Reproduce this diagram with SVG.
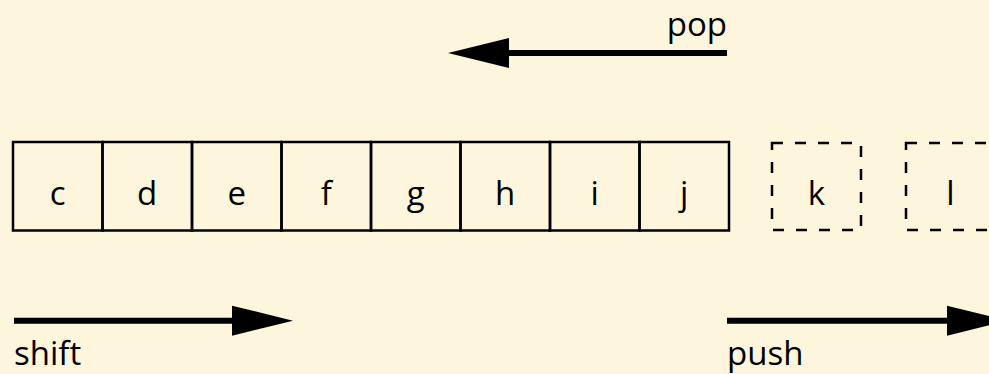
<svg xmlns="http://www.w3.org/2000/svg" width="989" height="374" viewBox="0 0 989 374">
  <style>
    .cell { fill: none; stroke: #000; stroke-width: 2.5; }
    .ghost { fill: none; stroke: #000; stroke-width: 2.5; stroke-dasharray: 11 12; }
    .lbl { font-family: "Open Sans", "Noto Sans", sans-serif; font-size: 33px; fill: #000; }
    .mid { text-anchor: middle; }
    .arrow { stroke: #000; stroke-width: 6; fill: none; }
    .head { fill: #000; }
  </style>
  <rect width="989" height="374" fill="#fdf6dc"/>

  <g id="cell-c"><rect class="cell" x="13" y="142" width="89.5" height="88.5"/><text class="lbl mid" x="57.7" y="205">c</text></g>
  <g id="cell-d"><rect class="cell" x="102.5" y="142" width="89.5" height="88.5"/><text class="lbl mid" x="147.2" y="205">d</text></g>
  <g id="cell-e"><rect class="cell" x="192" y="142" width="89.5" height="88.5"/><text class="lbl mid" x="236.7" y="205">e</text></g>
  <g id="cell-f"><rect class="cell" x="281.5" y="142" width="89.5" height="88.5"/><text class="lbl mid" x="326.2" y="205">f</text></g>
  <g id="cell-g"><rect class="cell" x="371" y="142" width="89.5" height="88.5"/><text class="lbl mid" x="415.7" y="205">g</text></g>
  <g id="cell-h"><rect class="cell" x="460.5" y="142" width="89.5" height="88.5"/><text class="lbl mid" x="505.2" y="205">h</text></g>
  <g id="cell-i"><rect class="cell" x="550" y="142" width="89.5" height="88.5"/><text class="lbl mid" x="594.7" y="205">i</text></g>
  <g id="cell-j"><rect class="cell" x="639.5" y="142" width="89.5" height="88.5"/><text class="lbl mid" x="684.2" y="205">j</text></g>

  <g id="cell-k"><rect class="ghost" x="772" y="143" width="89" height="87"/><text class="lbl mid" x="816.5" y="205">k</text></g>
  <g id="cell-l"><rect class="ghost" x="906" y="143" width="89" height="87"/><text class="lbl mid" x="950.5" y="205">l</text></g>

  <g id="connectors">
    <g id="pop">
      <line class="arrow" x1="727" y1="53" x2="505" y2="53"/>
      <polygon class="head" points="448,53 509,38 509,68"/>
      <text class="lbl" x="727" y="36" text-anchor="end">pop</text>
    </g>
    <g id="shift">
      <line class="arrow" x1="14" y1="320.7" x2="236" y2="320.7"/>
      <polygon class="head" points="293,320.7 232,305.7 232,335.7"/>
      <text class="lbl" x="14" y="365">shift</text>
    </g>
    <g id="push">
      <line class="arrow" x1="727" y1="320.7" x2="951" y2="320.7"/>
      <polygon class="head" points="1008,320.7 947,305.7 947,335.7"/>
      <text class="lbl" x="727" y="365">push</text>
    </g>
  </g>
</svg>
